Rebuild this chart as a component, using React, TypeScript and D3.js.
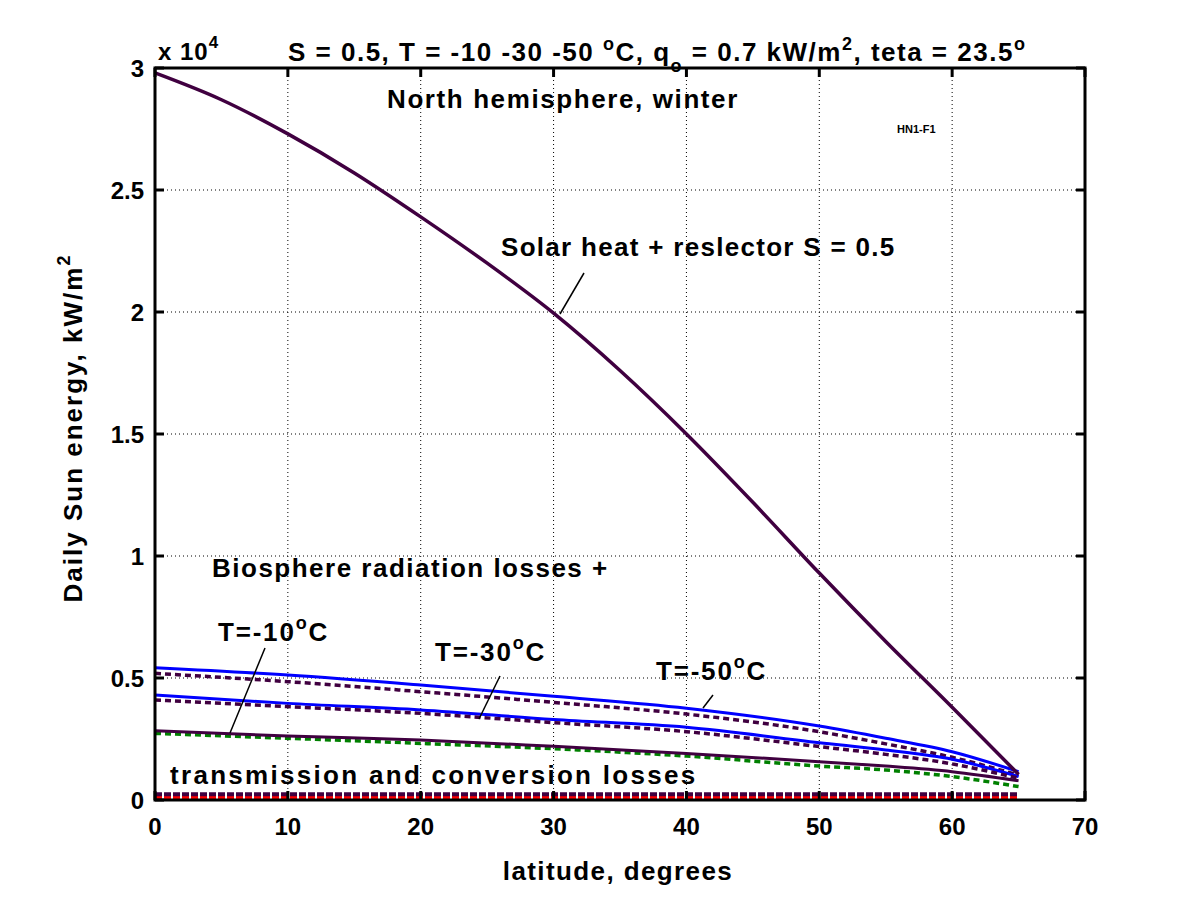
import React from 'react';
import * as d3 from 'd3';

// ---- data (values in kW/m^2, axis shows x 10^4) ----
const mainLatitudes = [0, 5, 10, 15, 20, 25, 30, 35, 40, 45, 50, 55, 60, 65];
const solarReflector = [29800, 28700, 27300, 25700, 23900, 22000, 19950, 17600, 15000, 12200, 9300, 6500, 3800, 1050];

const latitudes = [0, 10, 20, 30, 40, 50, 55, 60, 65];
const blueUpper = [5420, 5120, 4710, 4250, 3760, 3030, 2530, 1980, 1160];
const dashedUpper = [5190, 4850, 4440, 4000, 3520, 2800, 2300, 1750, 1020];
const blueMiddle = [4300, 3960, 3690, 3300, 2980, 2350, 2050, 1670, 960];
const dashedMiddle = [4100, 3830, 3550, 3170, 2800, 2190, 1870, 1480, 890];
const purpleLower = [2840, 2620, 2460, 2200, 1910, 1570, 1390, 1160, 790];
const greenLower = [2730, 2530, 2320, 2100, 1800, 1390, 1230, 960, 550];

const flatLatitudes = [0, 65];
const transmissionPurple = [240, 240];
const transmissionRed = [100, 100];

const xTicks = [0, 10, 20, 30, 40, 50, 60, 70];
const yTicks = [0, 5000, 10000, 15000, 20000, 25000, 30000];
const yTickLabels = ['0', '0.5', '1', '1.5', '2', '2.5', '3'];

const FONT = "'Liberation Sans', Arial, Helvetica, sans-serif";

export default function App() {
  const left = 155, right = 1085, top = 68, bottom = 800;
  const x = d3.scaleLinear().domain([0, 70]).range([left, right]);
  const y = d3.scaleLinear().domain([0, 30000]).range([bottom, top]);
  const line = d3
    .line<[number, number]>()
    .x((d) => x(d[0]))
    .y((d) => y(d[1]))
    .curve(d3.curveMonotoneX);
  const path = (xs: number[], ys: number[]) => line(xs.map((v, i) => [v, ys[i]] as [number, number])) || '';

  const purple = '#400040';
  const series = [
    { xs: latitudes, ys: blueUpper, color: '#0000ff', dash: undefined, w: 3 },
    { xs: latitudes, ys: dashedUpper, color: purple, dash: '6 4', w: 3.5 },
    { xs: latitudes, ys: blueMiddle, color: '#0000ff', dash: undefined, w: 3 },
    { xs: latitudes, ys: dashedMiddle, color: purple, dash: '6 4', w: 3.5 },
    { xs: latitudes, ys: greenLower, color: '#008000', dash: '6 4', w: 3.5 },
    { xs: latitudes, ys: purpleLower, color: purple, dash: undefined, w: 3 },
  ];

  const txt = { fontFamily: FONT, fontWeight: 700 as const, fill: '#000' };

  return (
    <svg width={1200} height={900} style={{ position: 'absolute', left: 0, top: 0, background: '#fff' }}>
      <rect x={0} y={0} width={1200} height={900} fill="#fff" />
      {/* grid */}
      {xTicks.slice(1, -1).map((t) => (
        <line key={'gx' + t} x1={x(t)} x2={x(t)} y1={top} y2={bottom} stroke="#000" strokeWidth={1} strokeDasharray="1 3" />
      ))}
      {yTicks.slice(1, -1).map((t) => (
        <line key={'gy' + t} x1={left} x2={right} y1={y(t)} y2={y(t)} stroke="#000" strokeWidth={1} strokeDasharray="1 3" />
      ))}

      {/* series */}
      {series.map((s, i) => (
        <path key={i} d={path(s.xs, s.ys)} fill="none" stroke={s.color} strokeWidth={s.w} strokeDasharray={s.dash} />
      ))}
      <path d={path(mainLatitudes, solarReflector)} fill="none" stroke={purple} strokeWidth={3.5} />
      <path d={path(flatLatitudes, transmissionRed)} fill="none" stroke="#ff0000" strokeWidth={3} strokeDasharray="7 2" />
      <path d={path(flatLatitudes, transmissionPurple)} fill="none" stroke={purple} strokeWidth={4} strokeDasharray="7 2" />

      {/* box and ticks */}
      <rect x={left} y={top} width={right - left} height={bottom - top} fill="none" stroke="#000" strokeWidth={3} />
      {xTicks.map((t) => (
        <g key={'tx' + t}>
          <line x1={x(t)} x2={x(t)} y1={bottom} y2={bottom - 9} stroke="#000" strokeWidth={3} />
          <line x1={x(t)} x2={x(t)} y1={top} y2={top + 9} stroke="#000" strokeWidth={3} />
          <text x={x(t)} y={835} textAnchor="middle" fontSize={24} {...txt}>
            {t}
          </text>
        </g>
      ))}
      {yTicks.map((t, i) => (
        <g key={'ty' + t}>
          <line x1={left} x2={left + 9} y1={y(t)} y2={y(t)} stroke="#000" strokeWidth={3} />
          <line x1={right} x2={right - 9} y1={y(t)} y2={y(t)} stroke="#000" strokeWidth={3} />
          <text x={144} y={y(t) + 9} textAnchor="end" fontSize={24} {...txt}>
            {yTickLabels[i]}
          </text>
        </g>
      ))}

      {/* axis labels */}
      <text x={618} y={880} textAnchor="middle" fontSize={26} letterSpacing={1.4} {...txt}>
        latitude, degrees
      </text>
      <text transform="translate(82,428) rotate(-90)" textAnchor="middle" fontSize={26} letterSpacing={2} {...txt}>
        Daily Sun energy, kW/m
        <tspan fontSize={18} dy={-12}>2</tspan>
      </text>

      {/* header */}
      <text x={158} y={60} fontSize={24} letterSpacing={1} {...txt}>
        x 10<tspan fontSize={17} dy={-12}>4</tspan>
      </text>
      <text x={288} y={61} fontSize={26} letterSpacing={1.5} {...txt}>
        S = 0.5, T = -10 -30 -50 <tspan fontSize={18} dy={-11}>o</tspan>
        <tspan dy={11}>C, q</tspan>
        <tspan fontSize={18} dy={11}>o</tspan>
        <tspan dy={-11}> = 0.7 kW/m</tspan>
        <tspan fontSize={18} dy={-11}>2</tspan>
        <tspan dy={11}>, teta = 23.5</tspan>
        <tspan fontSize={18} dy={-11}>o</tspan>
      </text>

      {/* annotations */}
      <text x={387} y={108} fontSize={26} letterSpacing={1.6} {...txt}>
        North hemisphere, winter
      </text>
      <text x={897} y={133} fontSize={11} {...txt}>
        HN1-F1
      </text>
      <text x={501} y={256} fontSize={26} letterSpacing={1.3} {...txt}>
        Solar heat + reslector S = 0.5
      </text>
      <text x={212} y={577} fontSize={26} letterSpacing={1.5} {...txt}>
        Biosphere radiation losses +
      </text>
      <text x={218} y={641} fontSize={26} letterSpacing={1.8} {...txt}>
        T=-10<tspan fontSize={18} dy={-12}>o</tspan>
        <tspan dy={12}>C</tspan>
      </text>
      <text x={435} y={661} fontSize={26} letterSpacing={1.8} {...txt}>
        T=-30<tspan fontSize={18} dy={-12}>o</tspan>
        <tspan dy={12}>C</tspan>
      </text>
      <text x={656} y={680} fontSize={26} letterSpacing={1.8} {...txt}>
        T=-50<tspan fontSize={18} dy={-12}>o</tspan>
        <tspan dy={12}>C</tspan>
      </text>
      <text x={170} y={784} fontSize={26} letterSpacing={2.3} {...txt}>
        transmission and conversion losses
      </text>

      {/* leader lines */}
      <line x1={560} y1={314} x2={584} y2={273} stroke="#000" strokeWidth={1.5} />
      <line x1={230} y1={733} x2={265} y2={648} stroke="#000" strokeWidth={1.5} />
      <line x1={479} y1={719} x2={500} y2={676} stroke="#000" strokeWidth={1.5} />
      <line x1={703} y1={708} x2={713} y2={695} stroke="#000" strokeWidth={1.5} />
    </svg>
  );
}
